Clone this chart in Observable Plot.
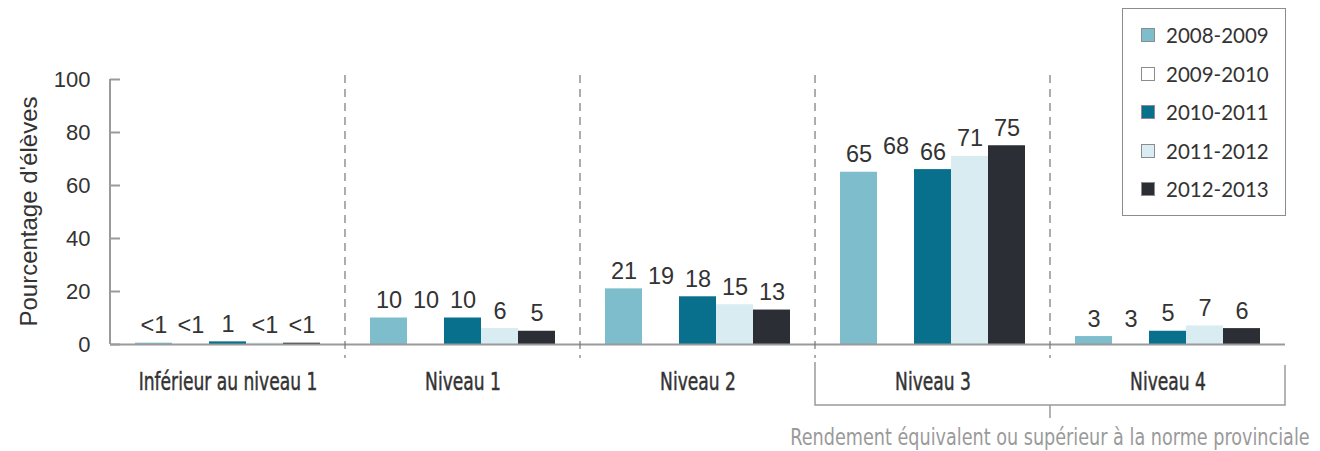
<!DOCTYPE html>
<html><head><meta charset="utf-8">
<script src="https://cdn.jsdelivr.net/npm/d3@7"></script>
<script src="https://cdn.jsdelivr.net/npm/@observablehq/plot@0.6"></script>
<style>
body{margin:0;background:#fff;}
#wrap{position:relative;width:1320px;height:451px;overflow:hidden;}
#legend{position:absolute;left:1122px;top:8px;width:164px;height:208px;border:1.5px solid #8c8c8c;box-sizing:border-box;font-family:Lato,"Open Sans",sans-serif;font-size:20.5px;color:#333;}
.item{position:absolute;left:18px;height:24px;display:flex;align-items:center;}
.sw{width:12px;height:12px;border:1.5px solid #8c8c8c;margin-right:11px;}
</style></head>
<body><div id="wrap"></div>
<script>
const categories = ["Inférieur au niveau 1","Niveau 1","Niveau 2","Niveau 3","Niveau 4"];
const years = ["2008-2009","2009-2010","2010-2011","2011-2012","2012-2013"];
const v2008_2009 = [0.5, 10, 21, 65, 3];
const v2009_2010 = [0.5, 10, 19, 68, 3];
const v2010_2011 = [1, 10, 18, 66, 5];
const v2011_2012 = [0.5, 6, 15, 71, 7];
const v2012_2013 = [0.5, 5, 13, 75, 6];
const yTicks = [0, 20, 40, 60, 80, 100];
const colors = ["#7dbdcc", "#ffffff", "#08708c", "#d9ecf1", "#2b2e35"];
const yTitle = "Pourcentage d'élèves";
const bracketNote = "Rendement équivalent ou supérieur à la norme provinciale";

const series = [v2008_2009, v2009_2010, v2010_2011, v2011_2012, v2012_2013];
const rows = [];
categories.forEach((c, i) => years.forEach((yr, j) => {
  const v = series[j][i];
  rows.push({cat: c, year: yr, value: v, label: v < 1 ? "<1" : String(v)});
}));

const sans = "'Liberation Sans', Arimo, Arial, Helvetica, sans-serif";
const narrow = "'DejaVu Sans Condensed', sans-serif";
const plot = Plot.plot({
  width: 1320, height: 451,
  marginLeft: 110, marginRight: 35, marginTop: 79, marginBottom: 107,
  style: {fontFamily: sans, background: "transparent", overflow: "visible"},
  fx: {domain: categories, padding: 0, label: null},
  x: {domain: years, paddingInner: 0, paddingOuter: 0.675, axis: null},
  y: {domain: [0, 100], axis: null},
  color: {domain: years, range: colors},
  marks: [
    Plot.barY(rows, {fx: "cat", x: "year", y: "value", fill: "year"}),
    Plot.ruleY([0], {stroke: "#9a9a9a", strokeWidth: 2}),
    Plot.text(rows, {fx: "cat", x: "year", y: "value", text: "label", lineAnchor: "bottom", dy: -10, fontSize: 23.5, fontFamily: sans, fill: "#333"}),
    Plot.axisY({ticks: yTicks, tickSize: -10, tickFormat: () => "", color: "#9a9a9a", strokeWidth: 2, label: null}),
    Plot.axisY({ticks: yTicks, tickSize: 0, tickPadding: 20, fontSize: 22, fontFamily: sans, color: "#333", label: null}),
    Plot.axisFx({anchor: "bottom", tickSize: 0, tickPadding: 28, fontSize: 19, fontFamily: narrow, color: "#333", label: null})
  ]
});

document.getElementById("wrap").appendChild(plot);

// condense the narrow labels: keep natural width at the small size, draw taller glyphs
function condense(sel, size) {
  sel.each(function () {
    const w = this.getComputedTextLength();
    this.setAttribute("font-size", size);
    this.style.fontSize = size + "px";
    this.setAttribute("textLength", w);
    this.setAttribute("lengthAdjust", "spacingAndGlyphs");
  });
}
const svg = d3.select(plot);
const catLabels = svg.selectAll("text").filter(function () { return categories.includes(this.textContent); });
condense(catLabels, 24.5);
catLabels.attr("stroke", "#333").attr("stroke-width", 0.45);

const fx = plot.scale("fx"), y = plot.scale("y");
const bw = fx.bandwidth;
const g = svg.append("g");
const y0 = y.apply(0), y100 = y.apply(100);
const xLeft = fx.apply(categories[0]);
g.append("line").attr("x1", xLeft).attr("x2", xLeft).attr("y1", y100).attr("y2", y0)
  .attr("stroke", "#9a9a9a").attr("stroke-width", 2);
categories.slice(1).forEach(c => {
  const x = fx.apply(c);
  g.append("line").attr("x1", x).attr("x2", x).attr("y1", y100 - 4).attr("y2", y0 + 14)
    .attr("stroke", "#777").attr("stroke-width", 1.2).attr("stroke-dasharray", "8,6");
});
const bx1 = fx.apply(categories[3]), bx2 = fx.apply(categories[4]) + bw, bmid = fx.apply(categories[4]);
const by = y0 + 61;
g.append("path").attr("d", `M${bx1},${y0 + 18}V${by}H${bx2}V${y0 + 21}`)
  .attr("fill", "none").attr("stroke", "#9a9a9a").attr("stroke-width", 1.5);
g.append("line").attr("x1", bmid).attr("x2", bmid).attr("y1", by).attr("y2", by + 13)
  .attr("stroke", "#9a9a9a").attr("stroke-width", 1.5);
g.append("text").attr("transform", `translate(${bmid},${by + 40}) scale(1,1.15)`).attr("text-anchor", "middle")
  .attr("font-family", narrow).attr("font-size", 19.6).attr("fill", "#9a9a9a").text(bracketNote);
g.append("text").attr("transform", `translate(37,${(y0 + y100) / 2}) rotate(-90)`)
  .attr("text-anchor", "middle").attr("font-family", sans).attr("font-size", 24).attr("fill", "#333").text(yTitle);

const legend = document.createElement("div");
legend.id = "legend";
years.forEach((yr, j) => {
  const it = document.createElement("div");
  it.className = "item";
  it.style.top = (14 + j * 38.5) + "px";
  const sw = document.createElement("div");
  sw.className = "sw";
  sw.style.background = colors[j];
  it.appendChild(sw);
  const t = document.createElement("span");
  t.textContent = yr;
  it.appendChild(t);
  legend.appendChild(it);
});
document.getElementById("wrap").appendChild(legend);
</script>
</body></html>
